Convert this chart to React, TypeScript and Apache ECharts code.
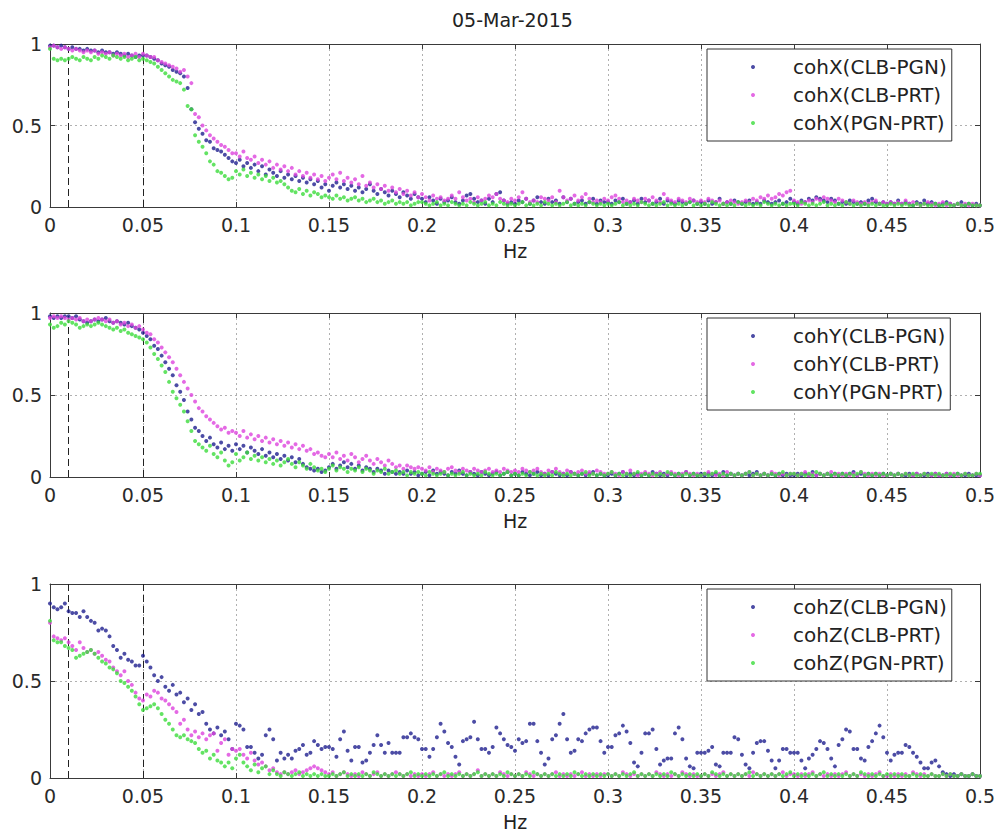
import React, { useEffect, useRef } from "react";
import * as echarts from "echarts";

// ---------- data ----------
const TITLE = "05-Mar-2015";
const X_NAME = "Hz";
const FREQ_STEP = 0.002; // frequency resolution of the spectra (Hz)
const DASH_FREQS = [0.01, 0.05];
const PANEL_PREFIX = ["cohX", "cohY", "cohZ"];
const PAIRS = ["CLB-PGN", "CLB-PRT", "PGN-PRT"];

// cohX
const X_CLB_PGN = [
  0.99,0.99,0.98,0.99,0.98,0.97,0.98,0.97,0.97,0.96,0.97,0.96,0.96,0.95,0.96,0.95,0.95,0.94,0.95,0.94,0.93,0.94,0.93,0.92,0.93,
  0.93,0.93,0.92,0.91,0.90,0.88,0.87,0.86,0.84,0.83,0.82,0.80,0.73,0.60,0.52,0.48,0.45,0.41,0.40,0.36,0.35,0.34,0.32,0.30,0.28,
  0.27,0.29,0.25,0.27,0.24,0.26,0.22,0.25,0.20,0.23,0.21,0.19,0.22,0.18,0.20,0.17,0.19,0.16,0.18,0.15,0.17,0.14,0.16,0.12,0.14,
  0.10,0.13,0.15,0.12,0.14,0.11,0.13,0.10,0.12,0.09,0.11,0.14,0.10,0.08,0.11,0.09,0.07,0.10,0.08,0.06,0.09,0.07,0.05,0.08,0.06,
  0.05,0.03,0.06,0.04,0.02,0.05,0.03,0.04,0.06,0.03,0.02,0.04,0.07,0.08,0.05,0.03,0.04,0.02,0.05,0.03,0.08,0.09,0.04,0.02,0.03,
  0.02,0.04,0.03,0.05,0.02,0.04,0.06,0.03,0.02,0.05,0.03,0.04,0.02,0.06,0.03,0.05,0.02,0.03,0.04,0.02,0.03,0.05,0.02,0.04,0.03,
  0.03,0.02,0.04,0.03,0.05,0.02,0.03,0.04,0.02,0.05,0.03,0.04,0.02,0.03,0.05,0.02,0.04,0.03,0.02,0.04,0.03,0.02,0.03,0.04,0.02,
  0.03,0.02,0.04,0.02,0.03,0.05,0.02,0.03,0.02,0.04,0.03,0.02,0.03,0.04,0.02,0.03,0.02,0.04,0.03,0.02,0.03,0.04,0.02,0.03,0.05,
  0.03,0.02,0.04,0.03,0.05,0.04,0.06,0.05,0.04,0.03,0.05,0.04,0.02,0.03,0.02,0.04,0.03,0.02,0.03,0.02,0.04,0.05,0.03,0.02,0.03,
  0.02,0.03,0.02,0.04,0.02,0.03,0.02,0.01,0.03,0.02,0.04,0.02,0.03,0.02,0.01,0.02,0.03,0.02,0.01,0.02,0.03,0.01,0.02,0.01,0.02,
  0.01,
];
const X_CLB_PRT = [
  0.98,0.99,0.98,0.97,0.98,0.97,0.96,0.97,0.96,0.95,0.96,0.95,0.96,0.94,0.95,0.94,0.95,0.93,0.94,0.93,0.94,0.92,0.93,0.94,0.92,
  0.94,0.93,0.92,0.92,0.90,0.89,0.88,0.87,0.86,0.85,0.83,0.84,0.80,0.76,0.57,0.55,0.50,0.47,0.44,0.42,0.40,0.38,0.37,0.35,0.33,
  0.33,0.31,0.34,0.30,0.29,0.31,0.27,0.29,0.26,0.28,0.24,0.26,0.23,0.25,0.22,0.24,0.20,0.22,0.19,0.21,0.18,0.20,0.17,0.19,0.16,
  0.18,0.20,0.17,0.21,0.16,0.18,0.15,0.17,0.14,0.19,0.13,0.15,0.12,0.14,0.11,0.13,0.10,0.12,0.09,0.11,0.08,0.10,0.07,0.09,0.06,
  0.08,0.06,0.04,0.07,0.05,0.06,0.04,0.05,0.07,0.05,0.09,0.06,0.04,0.05,0.03,0.06,0.04,0.05,0.07,0.06,0.08,0.05,0.04,0.03,0.05,
  0.04,0.06,0.09,0.05,0.03,0.04,0.03,0.06,0.05,0.04,0.06,0.03,0.10,0.06,0.04,0.05,0.07,0.04,0.06,0.08,0.05,0.03,0.04,0.03,0.05,
  0.04,0.06,0.07,0.05,0.03,0.04,0.03,0.05,0.04,0.03,0.05,0.04,0.06,0.04,0.03,0.08,0.05,0.04,0.03,0.05,0.04,0.03,0.05,0.04,0.03,
  0.04,0.03,0.05,0.04,0.03,0.04,0.02,0.03,0.04,0.03,0.02,0.03,0.04,0.03,0.05,0.04,0.06,0.05,0.07,0.05,0.06,0.08,0.07,0.09,0.10,
  0.04,0.03,0.02,0.03,0.04,0.03,0.05,0.04,0.06,0.05,0.04,0.03,0.05,0.04,0.03,0.02,0.04,0.03,0.02,0.03,0.02,0.03,0.04,0.02,0.03,
  0.02,0.03,0.02,0.03,0.02,0.04,0.02,0.03,0.02,0.01,0.02,0.03,0.02,0.01,0.02,0.03,0.01,0.02,0.01,0.02,0.01,0.02,0.01,0.02,0.01,
  0.01,
];
const X_PGN_PRT = [
  0.97,0.91,0.90,0.91,0.90,0.91,0.92,0.91,0.90,0.92,0.91,0.90,0.92,0.91,0.93,0.92,0.91,0.93,0.92,0.91,0.92,0.90,0.91,0.92,0.90,
  0.91,0.90,0.89,0.88,0.86,0.84,0.82,0.80,0.78,0.77,0.76,0.72,0.62,0.60,0.44,0.40,0.37,0.33,0.28,0.26,0.22,0.21,0.19,0.17,0.18,
  0.22,0.20,0.23,0.19,0.21,0.18,0.20,0.17,0.19,0.16,0.18,0.15,0.16,0.14,0.12,0.10,0.09,0.11,0.08,0.10,0.07,0.09,0.08,0.06,0.07,
  0.06,0.05,0.07,0.05,0.06,0.04,0.05,0.06,0.04,0.05,0.03,0.04,0.05,0.03,0.04,0.02,0.03,0.04,0.02,0.03,0.02,0.03,0.01,0.02,0.03,
  0.03,0.02,0.01,0.02,0.03,0.01,0.02,0.01,0.03,0.02,0.01,0.02,0.01,0.03,0.02,0.01,0.02,0.03,0.01,0.02,0.01,0.03,0.02,0.01,0.02,
  0.01,0.02,0.03,0.01,0.02,0.01,0.02,0.01,0.03,0.02,0.01,0.02,0.01,0.02,0.03,0.01,0.02,0.01,0.02,0.01,0.03,0.02,0.01,0.02,0.01,
  0.02,0.01,0.02,0.03,0.01,0.02,0.01,0.02,0.01,0.03,0.02,0.01,0.02,0.01,0.02,0.03,0.01,0.02,0.01,0.02,0.01,0.02,0.03,0.01,0.02,
  0.01,0.02,0.01,0.03,0.02,0.01,0.02,0.01,0.02,0.01,0.03,0.02,0.01,0.02,0.01,0.02,0.01,0.03,0.02,0.01,0.02,0.01,0.02,0.01,0.02,
  0.02,0.01,0.03,0.02,0.01,0.02,0.01,0.02,0.03,0.01,0.02,0.01,0.02,0.01,0.03,0.02,0.01,0.02,0.01,0.02,0.01,0.02,0.01,0.02,0.01,
  0.01,0.02,0.01,0.02,0.01,0.02,0.01,0.01,0.02,0.01,0.02,0.01,0.01,0.02,0.01,0.01,0.02,0.01,0.01,0.02,0.01,0.01,0.02,0.01,0.01,
  0.01,
];

// cohY
const Y_CLB_PGN = [
  0.98,0.97,0.98,0.97,0.98,0.98,0.97,0.98,0.96,0.95,0.94,0.95,0.96,0.95,0.96,0.97,0.95,0.94,0.95,0.94,0.93,0.94,0.92,0.91,0.90,
  0.88,0.86,0.84,0.80,0.78,0.74,0.70,0.66,0.62,0.56,0.52,0.47,0.40,0.35,0.30,0.28,0.25,0.22,0.24,0.20,0.18,0.21,0.17,0.19,0.16,
  0.20,0.17,0.19,0.15,0.18,0.16,0.14,0.17,0.13,0.15,0.12,0.14,0.11,0.13,0.10,0.12,0.09,0.11,0.08,0.06,0.05,0.04,0.05,0.03,0.04,
  0.06,0.08,0.05,0.07,0.09,0.06,0.08,0.05,0.07,0.04,0.06,0.05,0.03,0.05,0.04,0.02,0.04,0.03,0.02,0.03,0.02,0.04,0.02,0.03,0.01,
  0.02,0.03,0.01,0.04,0.02,0.03,0.02,0.01,0.03,0.02,0.04,0.02,0.01,0.03,0.02,0.01,0.03,0.02,0.01,0.02,0.03,0.01,0.02,0.03,0.01,
  0.02,0.01,0.03,0.02,0.01,0.02,0.03,0.01,0.02,0.01,0.03,0.02,0.01,0.02,0.01,0.03,0.02,0.01,0.02,0.01,0.02,0.03,0.01,0.02,0.01,
  0.01,0.02,0.01,0.02,0.03,0.01,0.02,0.01,0.02,0.01,0.02,0.01,0.03,0.02,0.01,0.02,0.01,0.02,0.01,0.02,0.01,0.03,0.01,0.02,0.01,
  0.02,0.01,0.02,0.01,0.02,0.01,0.03,0.01,0.02,0.01,0.02,0.01,0.02,0.01,0.02,0.03,0.01,0.02,0.01,0.02,0.01,0.02,0.01,0.02,0.01,
  0.01,0.02,0.01,0.02,0.01,0.03,0.01,0.02,0.01,0.02,0.01,0.02,0.01,0.02,0.01,0.02,0.03,0.01,0.02,0.01,0.02,0.01,0.02,0.01,0.02,
  0.01,0.02,0.01,0.02,0.01,0.01,0.02,0.01,0.02,0.01,0.01,0.02,0.01,0.02,0.01,0.01,0.02,0.01,0.01,0.02,0.01,0.01,0.02,0.01,0.01,
  0.01,
];
const Y_CLB_PRT = [
  0.97,0.98,0.97,0.98,0.97,0.96,0.97,0.96,0.97,0.95,0.96,0.95,0.96,0.97,0.96,0.95,0.96,0.94,0.95,0.93,0.94,0.92,0.93,0.91,0.92,
  0.90,0.88,0.87,0.84,0.82,0.79,0.76,0.73,0.70,0.66,0.62,0.58,0.54,0.50,0.46,0.42,0.40,0.37,0.35,0.33,0.31,0.29,0.30,0.27,0.28,
  0.27,0.25,0.28,0.24,0.26,0.23,0.25,0.22,0.24,0.21,0.23,0.20,0.22,0.19,0.21,0.18,0.20,0.17,0.19,0.16,0.17,0.14,0.15,0.13,0.12,
  0.14,0.12,0.15,0.11,0.13,0.10,0.14,0.12,0.09,0.11,0.13,0.10,0.08,0.11,0.09,0.07,0.10,0.08,0.06,0.07,0.05,0.07,0.06,0.05,0.06,
  0.05,0.04,0.06,0.03,0.05,0.04,0.03,0.05,0.06,0.04,0.03,0.05,0.04,0.03,0.05,0.04,0.03,0.04,0.05,0.03,0.04,0.03,0.05,0.04,0.03,
  0.04,0.03,0.05,0.04,0.03,0.04,0.05,0.03,0.02,0.04,0.03,0.05,0.03,0.02,0.04,0.03,0.02,0.03,0.04,0.02,0.03,0.02,0.04,0.03,0.02,
  0.02,0.03,0.02,0.01,0.03,0.02,0.04,0.02,0.01,0.02,0.03,0.02,0.01,0.02,0.03,0.01,0.02,0.03,0.02,0.01,0.02,0.03,0.02,0.01,0.02,
  0.01,0.02,0.03,0.02,0.01,0.02,0.01,0.03,0.02,0.01,0.02,0.01,0.02,0.03,0.01,0.02,0.01,0.02,0.01,0.03,0.02,0.01,0.02,0.01,0.02,
  0.02,0.01,0.02,0.03,0.01,0.02,0.01,0.02,0.01,0.02,0.03,0.01,0.02,0.01,0.02,0.01,0.02,0.01,0.03,0.02,0.01,0.02,0.01,0.02,0.01,
  0.01,0.02,0.01,0.02,0.01,0.02,0.01,0.01,0.02,0.01,0.02,0.01,0.01,0.02,0.01,0.01,0.02,0.01,0.02,0.01,0.01,0.02,0.01,0.01,0.02,
  0.01,
];
const Y_PGN_PRT = [
  0.93,0.91,0.92,0.94,0.93,0.95,0.94,0.93,0.91,0.92,0.93,0.92,0.93,0.94,0.93,0.92,0.91,0.90,0.91,0.89,0.90,0.88,0.87,0.86,0.85,
  0.84,0.82,0.79,0.75,0.72,0.68,0.64,0.58,0.52,0.48,0.44,0.40,0.34,0.28,0.22,0.20,0.18,0.16,0.19,0.14,0.12,0.15,0.10,0.07,0.09,
  0.14,0.10,0.12,0.15,0.11,0.13,0.10,0.12,0.09,0.11,0.08,0.10,0.07,0.09,0.11,0.08,0.06,0.09,0.07,0.05,0.08,0.06,0.04,0.05,0.03,
  0.05,0.07,0.04,0.06,0.05,0.03,0.05,0.04,0.06,0.03,0.05,0.04,0.02,0.04,0.03,0.05,0.02,0.03,0.04,0.02,0.03,0.01,0.03,0.02,0.03,
  0.02,0.01,0.03,0.02,0.01,0.02,0.03,0.01,0.02,0.01,0.02,0.03,0.01,0.02,0.01,0.02,0.01,0.03,0.02,0.01,0.02,0.01,0.02,0.03,0.01,
  0.02,0.01,0.02,0.01,0.03,0.02,0.01,0.02,0.01,0.02,0.01,0.03,0.02,0.01,0.02,0.01,0.02,0.01,0.02,0.03,0.01,0.02,0.01,0.02,0.01,
  0.02,0.03,0.01,0.02,0.01,0.02,0.01,0.02,0.03,0.01,0.02,0.01,0.02,0.01,0.02,0.01,0.03,0.02,0.01,0.02,0.01,0.02,0.01,0.02,0.01,
  0.01,0.02,0.01,0.02,0.03,0.01,0.02,0.01,0.02,0.01,0.02,0.01,0.02,0.03,0.01,0.02,0.01,0.02,0.01,0.02,0.01,0.02,0.03,0.01,0.02,
  0.02,0.01,0.02,0.01,0.02,0.01,0.03,0.02,0.01,0.02,0.01,0.02,0.01,0.02,0.01,0.02,0.01,0.02,0.03,0.01,0.02,0.01,0.02,0.01,0.02,
  0.01,0.02,0.01,0.02,0.01,0.02,0.01,0.02,0.01,0.01,0.02,0.01,0.02,0.01,0.02,0.01,0.01,0.02,0.01,0.02,0.01,0.02,0.01,0.01,0.02,
  0.02,
];

// cohZ
const Z_CLB_PGN = [
  0.90,0.88,0.87,0.88,0.90,0.86,0.85,0.85,0.83,0.86,0.83,0.81,0.80,0.76,0.77,0.76,0.73,0.68,0.66,0.62,0.64,0.61,0.60,0.58,0.58,
  0.63,0.60,0.57,0.53,0.50,0.52,0.47,0.45,0.48,0.43,0.44,0.39,0.41,0.35,0.38,0.33,0.34,0.28,0.25,0.23,0.26,0.22,0.24,0.20,0.15,
  0.28,0.27,0.25,0.16,0.16,0.13,0.10,0.12,0.22,0.25,0.20,0.09,0.13,0.10,0.12,0.10,0.14,0.15,0.17,0.12,0.13,0.19,0.17,0.15,0.16,
  0.16,0.15,0.11,0.20,0.24,0.14,0.09,0.16,0.16,0.08,0.09,0.13,0.17,0.22,0.17,0.13,0.18,0.13,0.13,0.13,0.21,0.21,0.23,0.21,0.20,
  0.15,0.15,0.11,0.15,0.21,0.28,0.24,0.18,0.16,0.11,0.07,0.19,0.20,0.21,0.29,0.20,0.15,0.15,0.13,0.16,0.26,0.23,0.20,0.17,0.16,
  0.14,0.20,0.18,0.19,0.28,0.28,0.19,0.13,0.07,0.10,0.20,0.22,0.28,0.33,0.20,0.13,0.14,0.20,0.19,0.23,0.25,0.26,0.26,0.19,0.13,
  0.16,0.16,0.22,0.23,0.27,0.24,0.18,0.08,0.06,0.13,0.23,0.23,0.25,0.15,0.07,0.09,0.10,0.10,0.23,0.26,0.20,0.10,0.06,0.05,0.13,
  0.13,0.13,0.14,0.16,0.07,0.06,0.13,0.13,0.13,0.21,0.20,0.12,0.07,0.05,0.13,0.18,0.19,0.19,0.14,0.09,0.05,0.09,0.15,0.15,0.13,
  0.13,0.13,0.09,0.05,0.10,0.12,0.15,0.19,0.18,0.15,0.10,0.06,0.17,0.20,0.25,0.24,0.15,0.15,0.10,0.09,0.16,0.19,0.23,0.27,0.21,
  0.13,0.09,0.12,0.13,0.13,0.17,0.16,0.13,0.11,0.08,0.05,0.05,0.08,0.09,0.06,0.03,0.02,0.01,0.02,0.01,0.02,0.01,0.01,0.02,0.01,
  0.01,
];
const Z_CLB_PRT = [
  0.80,0.73,0.72,0.71,0.72,0.70,0.68,0.66,0.70,0.67,0.65,0.66,0.64,0.65,0.63,0.61,0.60,0.57,0.55,0.53,0.55,0.50,0.48,0.44,0.41,
  0.40,0.43,0.42,0.45,0.44,0.41,0.40,0.38,0.36,0.34,0.28,0.30,0.25,0.22,0.24,0.21,0.23,0.20,0.22,0.23,0.14,0.18,0.20,0.12,0.15,
  0.14,0.15,0.12,0.10,0.13,0.09,0.07,0.08,0.06,0.04,0.05,0.03,0.02,0.03,0.02,0.03,0.04,0.02,0.03,0.04,0.05,0.06,0.05,0.04,0.03,
  0.02,0.03,0.01,0.02,0.03,0.02,0.01,0.02,0.01,0.03,0.02,0.01,0.02,0.03,0.01,0.02,0.01,0.02,0.03,0.02,0.01,0.02,0.01,0.02,0.01,
  0.02,0.01,0.02,0.03,0.01,0.02,0.01,0.02,0.01,0.02,0.03,0.01,0.02,0.01,0.02,0.04,0.01,0.02,0.01,0.02,0.01,0.03,0.02,0.01,0.02,
  0.01,0.02,0.01,0.03,0.02,0.01,0.02,0.01,0.02,0.01,0.02,0.03,0.01,0.02,0.01,0.02,0.01,0.02,0.03,0.01,0.02,0.01,0.02,0.01,0.02,
  0.02,0.01,0.02,0.01,0.03,0.02,0.01,0.02,0.01,0.02,0.01,0.02,0.01,0.03,0.02,0.01,0.02,0.01,0.02,0.01,0.03,0.02,0.01,0.02,0.01,
  0.01,0.02,0.01,0.02,0.01,0.02,0.03,0.01,0.02,0.01,0.02,0.01,0.02,0.01,0.03,0.02,0.01,0.02,0.01,0.02,0.01,0.02,0.03,0.01,0.02,
  0.02,0.01,0.02,0.01,0.02,0.03,0.01,0.02,0.01,0.02,0.01,0.02,0.01,0.02,0.03,0.01,0.02,0.01,0.02,0.01,0.02,0.01,0.02,0.03,0.01,
  0.01,0.02,0.01,0.02,0.01,0.02,0.01,0.03,0.02,0.01,0.02,0.01,0.02,0.01,0.01,0.02,0.01,0.02,0.01,0.01,0.02,0.01,0.01,0.02,0.01,
  0.01,
];
const Z_PGN_PRT = [
  0.81,0.71,0.70,0.70,0.68,0.67,0.66,0.62,0.63,0.64,0.65,0.66,0.64,0.62,0.60,0.59,0.57,0.56,0.54,0.50,0.49,0.47,0.45,0.42,0.38,
  0.35,0.36,0.37,0.38,0.36,0.33,0.30,0.28,0.25,0.22,0.21,0.22,0.20,0.19,0.18,0.15,0.13,0.14,0.10,0.12,0.09,0.08,0.06,0.08,0.05,
  0.10,0.12,0.08,0.06,0.04,0.07,0.03,0.05,0.06,0.02,0.04,0.02,0.01,0.03,0.02,0.01,0.02,0.03,0.01,0.02,0.01,0.02,0.01,0.02,0.01,
  0.01,0.02,0.01,0.02,0.03,0.01,0.02,0.01,0.02,0.01,0.02,0.01,0.03,0.02,0.01,0.02,0.01,0.02,0.01,0.02,0.01,0.02,0.03,0.01,0.02,
  0.01,0.02,0.01,0.02,0.01,0.02,0.03,0.01,0.02,0.01,0.02,0.01,0.02,0.01,0.02,0.03,0.01,0.02,0.01,0.02,0.01,0.02,0.01,0.03,0.02,
  0.01,0.02,0.01,0.02,0.01,0.03,0.02,0.01,0.02,0.01,0.02,0.01,0.02,0.01,0.02,0.01,0.03,0.02,0.01,0.02,0.01,0.02,0.01,0.02,0.01,
  0.02,0.01,0.02,0.01,0.02,0.01,0.02,0.03,0.01,0.02,0.01,0.02,0.01,0.02,0.01,0.02,0.01,0.03,0.02,0.01,0.02,0.01,0.02,0.01,0.02,
  0.01,0.02,0.01,0.03,0.02,0.01,0.02,0.01,0.02,0.01,0.02,0.01,0.02,0.03,0.01,0.02,0.01,0.02,0.01,0.02,0.01,0.02,0.01,0.02,0.03,
  0.01,0.02,0.01,0.02,0.01,0.02,0.01,0.02,0.03,0.01,0.02,0.01,0.02,0.01,0.02,0.01,0.02,0.01,0.03,0.02,0.01,0.02,0.01,0.02,0.01,
  0.02,0.01,0.02,0.01,0.02,0.01,0.01,0.02,0.01,0.02,0.01,0.01,0.02,0.01,0.01,0.02,0.01,0.02,0.01,0.01,0.02,0.01,0.01,0.02,0.01,
  0.01,
];

const PANEL_VALUES = [
  [X_CLB_PGN, X_CLB_PRT, X_PGN_PRT],
  [Y_CLB_PGN, Y_CLB_PRT, Y_PGN_PRT],
  [Z_CLB_PGN, Z_CLB_PRT, Z_PGN_PRT],
];

// ---------- layout / style ----------
const FONT = "DejaVu Sans";
const COLORS = ["#1f1f8f", "#dd44dd", "#3cdc3c"];
const AXIS_COLOR = "#3a3a3a";
const PANELS = [
  { top: 44, height: 163, legendTop: 49 },
  { top: 313, height: 164, legendTop: 318 },
  { top: 584, height: 194, legendTop: 589 },
];

function buildOption() {
  const grid: any[] = [];
  const xAxis: any[] = [];
  const yAxis: any[] = [];
  const series: any[] = [];
  const legend: any[] = [];

  PANELS.forEach((p, pi) => {
    grid.push({
      left: 50,
      right: 20,
      top: p.top,
      height: p.height,
      containLabel: false,
      outerBoundsMode: "none",
      show: false,
    });
    const tick = { show: true, inside: true, length: 5, lineStyle: { color: AXIS_COLOR } };
    xAxis.push({
      type: "value",
      gridIndex: pi,
      position: "bottom",
      min: 0,
      max: 0.5,
      interval: 0.05,
      name: X_NAME,
      nameLocation: "middle",
      nameGap: 34,
      nameTextStyle: { fontSize: 19, fontFamily: FONT, color: "#222" },
      axisLine: { show: true, onZero: false, lineStyle: { color: AXIS_COLOR, width: 1 } },
      axisTick: tick,
      axisLabel: { fontSize: 19, fontFamily: FONT, color: "#2a2a2a", margin: 8 },
      splitLine: { show: true, lineStyle: { color: "#b0b0b0", type: [2, 3], width: 1 } },
    });
    xAxis.push({
      type: "value",
      gridIndex: pi,
      position: "top",
      min: 0,
      max: 0.5,
      interval: 0.05,
      axisLine: { show: true, onZero: false, lineStyle: { color: AXIS_COLOR, width: 1 } },
      axisTick: tick,
      axisLabel: { show: false },
      splitLine: { show: false },
    });
    yAxis.push({
      type: "value",
      gridIndex: pi,
      position: "left",
      min: 0,
      max: 1,
      interval: 0.5,
      axisLine: { show: true, onZero: false, lineStyle: { color: AXIS_COLOR, width: 1 } },
      axisTick: tick,
      axisLabel: { fontSize: 19, fontFamily: FONT, color: "#2a2a2a", margin: 8 },
      splitLine: { show: true, lineStyle: { color: "#b0b0b0", type: [2, 3], width: 1 } },
    });
    yAxis.push({
      type: "value",
      gridIndex: pi,
      position: "right",
      min: 0,
      max: 1,
      interval: 0.5,
      axisLine: { show: true, onZero: false, lineStyle: { color: AXIS_COLOR, width: 1 } },
      axisTick: tick,
      axisLabel: { show: false },
      splitLine: { show: false },
    });

    const names = PAIRS.map((pair) => `${PANEL_PREFIX[pi]}(${pair})`);
    PANEL_VALUES[pi].forEach((vals, si) => {
      const s: any = {
        type: "scatter",
        name: names[si],
        xAxisIndex: pi * 2,
        yAxisIndex: pi * 2,
        symbol: "circle",
        symbolSize: 4,
        itemStyle: { color: COLORS[si] },
        silent: true,
        z: 3 + si,
        data: vals.map((v, i) => [+(i * FREQ_STEP).toFixed(4), v]),
      };
      if (si === 0) {
        s.markLine = {
          silent: true,
          symbol: ["none", "none"],
          label: { show: false },
          z: 2,
          lineStyle: { color: "#222", type: [7, 4], width: 1 },
          emphasis: { disabled: true },
          data: DASH_FREQS.map((f) => ({ xAxis: f })),
        };
      }
      series.push(s);
    });

    legend.push({
      orient: "vertical",
      left: 707,
      top: p.legendTop,
      icon: "circle",
      itemWidth: 70,
      itemHeight: 4,
      itemGap: 8,
      padding: [8, 5, 8, 44],
      borderColor: "#333",
      borderWidth: 1,
      backgroundColor: "#fff",
      selectedMode: false,
      textStyle: { fontSize: 20, fontFamily: FONT, color: "#222", lineHeight: 20 },
      data: names,
      z: 10,
    });
  });

  return {
    animation: false,
    backgroundColor: "#fff",
    title: {
      text: TITLE,
      left: 452,
      top: 10,
      padding: 0,
      textStyle: { fontSize: 19, fontWeight: "normal", fontFamily: FONT, color: "#222" },
    },
    grid,
    xAxis,
    yAxis,
    legend,
    series,
  };
}

export default function App() {
  const ref = useRef<HTMLDivElement>(null);
  useEffect(() => {
    if (!ref.current) return;
    const chart = echarts.init(ref.current, undefined, { renderer: "svg" });
    chart.setOption(buildOption() as any);
    return () => chart.dispose();
  }, []);
  return (
    <div
      ref={ref}
      style={{ position: "fixed", left: 0, top: 0, width: 1000, height: 837, background: "#fff" }}
    />
  );
}
